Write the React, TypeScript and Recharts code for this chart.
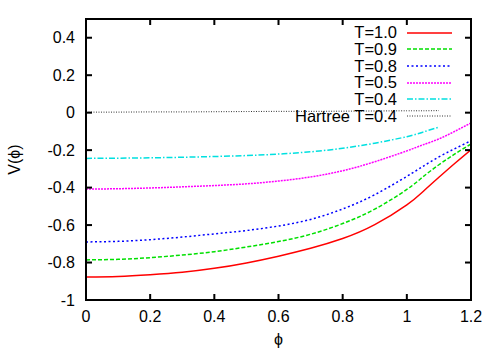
import { Legend, Line, LineChart, XAxis, YAxis } from "recharts";

const FONT = "'Liberation Sans', Arial, sans-serif";
const M = { top: 19, right: 29, bottom: 0, left: 0 };
const W = 500;
const H = 350;
const YAXIS_W = 86;
const XAXIS_H = 50;

// phi grid shared by every curve
const phi = [0, 0.1, 0.2, 0.3, 0.4, 0.5, 0.6, 0.7, 0.8, 0.9, 1.0, 1.05, 1.1, 1.15, 1.2];

const t10 = [-0.877, -0.874, -0.865, -0.852, -0.831, -0.802, -0.766, -0.724, -0.672, -0.598, -0.492, -0.422, -0.345, -0.27, -0.198];
const t09 = [-0.786, -0.783, -0.774, -0.76, -0.742, -0.717, -0.688, -0.649, -0.592, -0.515, -0.41, -0.343, -0.278, -0.22, -0.167];
const t08 = [-0.69, -0.687, -0.678, -0.664, -0.647, -0.629, -0.605, -0.57, -0.514, -0.438, -0.34, -0.287, -0.236, -0.192, -0.15];
const t05 = [-0.408, -0.406, -0.402, -0.396, -0.389, -0.38, -0.365, -0.343, -0.31, -0.262, -0.204, -0.172, -0.14, -0.099, -0.055];
const t04 = [-0.244, -0.243, -0.241, -0.238, -0.234, -0.229, -0.221, -0.209, -0.19, -0.163, -0.128, -0.104, -0.077];
const hartree = [0.003, 0.003, 0.004, 0.004, 0.005, 0.006, 0.007, 0.007, 0.008, 0.009, 0.01, 0.01, 0.011];

const xTicks = [0, 0.2, 0.4, 0.6, 0.8, 1, 1.2];
const yTicks = [-1, -0.8, -0.6, -0.4, -0.2, 0, 0.2, 0.4];

const series = [
  { key: "t10", name: "T=1.0", values: t10, color: "#ff0000", width: 1.5, dash: undefined },
  { key: "t09", name: "T=0.9", values: t09, color: "#00e000", width: 1.5, dash: "4 2" },
  { key: "t08", name: "T=0.8", values: t08, color: "#0000ff", width: 1.5, dash: "2 2.5" },
  { key: "t05", name: "T=0.5", values: t05, color: "#ff00ff", width: 1.5, dash: "2 1" },
  { key: "t04", name: "T=0.4", values: t04, color: "#00e0e0", width: 1.5, dash: "6 2 1.5 2" },
  { key: "hartree", name: "Hartree T=0.4", values: hartree, color: "#333333", width: 1, dash: "1 1.5" },
];

const data = phi.map((p, i) => {
  const row: Record<string, number> = { phi: p };
  series.forEach((s) => {
    if (i < s.values.length) row[s.key] = s.values[i];
  });
  return row;
});

const plot = {
  left: M.left + YAXIS_W,
  right: W - M.right,
  top: M.top,
  bottom: H - M.bottom - XAXIS_H,
};

// tick marks point inwards and are mirrored on the top / right border, gnuplot style
const BottomTick = ({ x, y, payload }: any) => (
  <g>
    <rect x={x - 1} y={y - 6} width={2} height={6} fill="#000" />
    <rect x={x - 1} y={plot.top} width={2} height={6} fill="#000" />
    <text x={x} y={y + 22} textAnchor="middle" fontSize={16} fontFamily={FONT} fill="#000">
      {payload.value}
    </text>
  </g>
);

const LeftTick = ({ x, y, payload }: any) => (
  <g>
    <rect x={x} y={y - 1} width={6} height={2} fill="#000" />
    <rect x={plot.right - 6} y={y - 1} width={6} height={2} fill="#000" />
    <text x={x - 11} y={y + 5.5} textAnchor="end" fontSize={16} fontFamily={FONT} fill="#000">
      {payload.value}
    </text>
  </g>
);

const YLabel = (props: any) => {
  const vb = props.viewBox || { x: 0, y: plot.top, width: YAXIS_W, height: plot.bottom - plot.top };
  const cx = vb.x + 14;
  const cy = vb.y + vb.height / 2;
  return (
    <text x={cx} y={cy} transform={`rotate(-90 ${cx} ${cy})`} textAnchor="middle" dominantBaseline="central" fontSize={16} fontFamily={FONT} fill="#000">
      V(ϕ)
    </text>
  );
};

const XLabel = (props: any) => {
  const vb = props.viewBox || { x: plot.left, y: plot.bottom, width: plot.right - plot.left, height: XAXIS_H };
  return (
    <text x={vb.x + vb.width / 2} y={vb.y + 45} textAnchor="middle" fontSize={16} fontFamily={FONT} fill="#000">
      ϕ
    </text>
  );
};

const LegendBox = () => (
  <div style={{ fontFamily: FONT, fontSize: 16.5, color: "#000" }}>
    {series.map((s) => (
      <div key={s.key} style={{ display: "flex", alignItems: "center", height: 16.65 }}>
        <span style={{ width: 116, textAlign: "right", whiteSpace: "nowrap", lineHeight: "16.65px" }}>{s.name}</span>
        <svg width={56} height={8} style={{ display: "block" }}>
          <line x1={10} x2={55} y1={4} y2={4} stroke={s.color} strokeWidth={s.width} strokeDasharray={s.dash} />
        </svg>
      </div>
    ))}
  </div>
);

const bar = (left: number, top: number, width: number, height: number) => (
  <div style={{ position: "absolute", left, top, width, height, background: "#000", pointerEvents: "none" }} />
);

const App = () => {
  return (
    <div style={{ position: "absolute", left: 0, top: 0, width: W, height: H, background: "#fff" }}>
      <LineChart width={W} height={H} data={data} margin={M}>
        <XAxis
          dataKey="phi"
          type="number"
          domain={[0, 1.2]}
          ticks={xTicks}
          interval={0}
          height={XAXIS_H}
          tickSize={0}
          tickMargin={0}
          tickLine={false}
          tick={<BottomTick />}
          axisLine={false}
          allowDataOverflow
          label={{ content: XLabel }}
        />
        <YAxis
          type="number"
          domain={[-1, 0.5]}
          ticks={yTicks}
          interval={0}
          width={YAXIS_W}
          tickSize={0}
          tickMargin={0}
          tickLine={false}
          tick={<LeftTick />}
          axisLine={false}
          allowDataOverflow
          label={{ content: YLabel }}
        />
        <Legend
          layout="horizontal"
          align="center"
          verticalAlign="middle"
          content={() => <LegendBox />}
          wrapperStyle={{ left: 281, top: 24.4, width: 180, height: "auto" }}
        />
        {series.map((s) => (
          <Line
            key={s.key}
            type="natural"
            dataKey={s.key}
            name={s.name}
            stroke={s.color}
            strokeWidth={s.width}
            strokeDasharray={s.dash}
            dot={false}
            activeDot={false}
            isAnimationActive={false}
          />
        ))}
      </LineChart>
      {/* plot frame */}
      {bar(plot.left - 1, plot.top - 1, plot.right - plot.left + 2, 2)}
      {bar(plot.left - 1, plot.bottom - 1, plot.right - plot.left + 2, 2)}
      {bar(plot.left - 1, plot.top - 1, 2, plot.bottom - plot.top + 2)}
      {bar(plot.right - 1, plot.top - 1, 2, plot.bottom - plot.top + 2)}
    </div>
  );
};

export default App;
